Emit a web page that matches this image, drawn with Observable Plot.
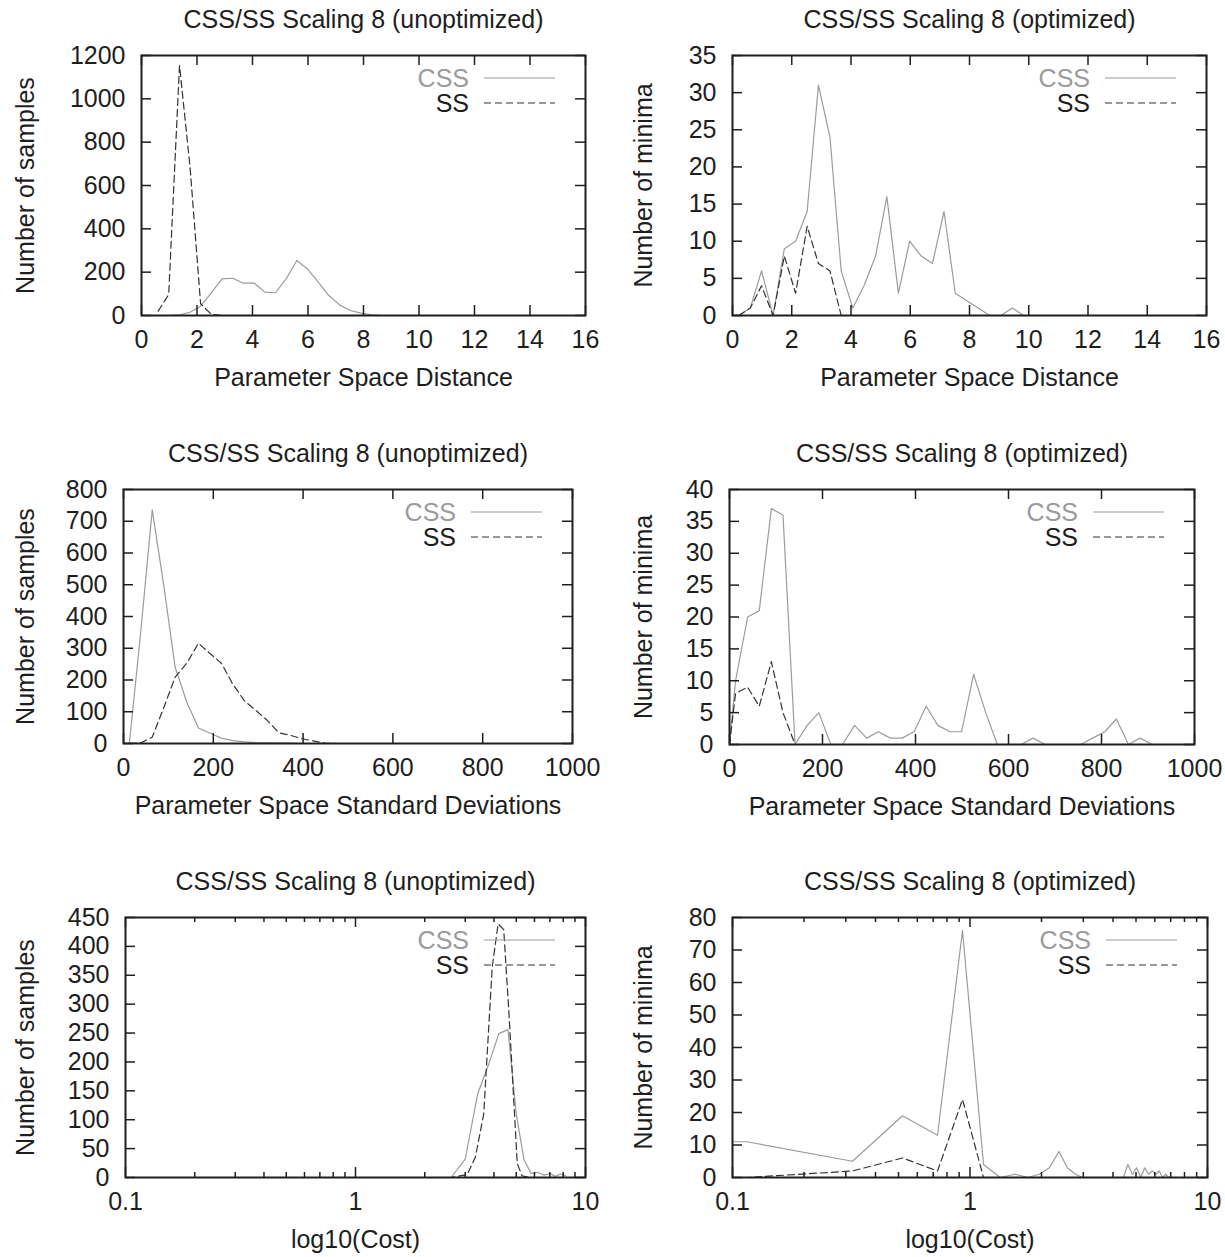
<!DOCTYPE html>
<html><head><meta charset="utf-8">
<script src="https://cdn.jsdelivr.net/npm/d3@7"></script>
<script src="https://cdn.jsdelivr.net/npm/@observablehq/plot@0.6"></script>
<style>
body{margin:0;background:#fff;}
#root{position:relative;width:1225px;height:1257px;background:#fff;}
#root svg{position:absolute;overflow:visible;}
</style></head><body><div id="root"></div>
<script>
// ---------- DATA ----------
const seriesNames = ["CSS", "SS"];
const titleUnopt = "CSS/SS Scaling 8 (unoptimized)";
const titleOpt = "CSS/SS Scaling 8 (optimized)";
const xLabelDist = "Parameter Space Distance";
const xLabelStd = "Parameter Space Standard Deviations";
const xLabelCost = "log10(Cost)";
const yLabelSamples = "Number of samples";
const yLabelMinima = "Number of minima";

// Panel A: unoptimized, distance
const unoptDistX = [0.6,0.98,1.37,1.75,2.13,2.52,2.9,3.29,3.67,4.06,4.44,4.83,5.21,5.6,5.98,6.37,6.75,7.14,7.52,7.91,8.29,8.68,9.06,9.45,9.83,10.22,10.6,10.99,11.37,11.76,12.14,12.53,12.91,13.3,13.68,14.07,14.45,14.84];
const unoptDistCSS = [0,0,3,15,43,106,169,172,149,150,108,105,169,254,215,154,92,49,23,11,3,0,0,0,0,0,0,0,0,0,0,0,0,0,0,0,0,0];
const unoptDistSS = [20,97,1154,685,54,5,0,0,0,0,0,0,0,0,0,0,0,0,0,0,0,0,0,0,0,0,0,0,0,0,0,0,0,0,0,0,0,0];

// Panel B: optimized, distance
const optDistX = [0.21,0.6,0.98,1.37,1.75,2.13,2.52,2.9,3.29,3.67,4.06,4.44,4.83,5.21,5.6,5.98,6.37,6.75,7.14,7.52,7.91,8.29,8.68,9.06,9.45,9.83,10.22,10.6,10.99,11.37,11.76,12.14,12.53,12.91,13.3,13.68,14.07,14.45,14.84,15.22];
const optDistCSS = [0,1,6,0,9,10,14,31,24,6,1,4,8,16,3,10,8,7,14,3,2,1,0,0,1,0,0,0,0,0,0,0,0,0,0,0,0,0,0,0];
const optDistSS = [0,1,4,0,8,3,12,7,6,0,0,0,0,0,0,0,0,0,0,0,0,0,0,0,0,0,0,0,0,0,0,0,0,0,0,0,0,0,0,0];

// Panel C: unoptimized, standard deviations
const unoptStdX = [13,39,64,90,115,141,167,192,218,243,269,295,320,346,371,397,423,448,474,499,525,551,576,602,627,653,679,704,730,755,781,807,832,858,883,909,935,960,986];
const unoptStdCSS = [0,360,736,495,240,130,49,33,17,9,5,3,2,1,1,0,0,0,0,0,0,0,0,0,0,0,0,0,0,0,0,0,0,0,0,0,0,0,0];
const unoptStdSS = [0,2,20,114,209,253,316,284,253,188,135,104,73,34,26,15,8,1,0,0,0,0,0,0,0,0,0,0,0,0,0,0,0,0,0,0,0,0,0];

// Panel D: optimized, standard deviations
const optStdX = [0,13,39,64,90,115,141,167,192,218,243,269,295,320,346,371,397,423,448,474,499,525,551,576,602,627,653,679,704,730,755,781,807,832,858,883,909,935,960,986];
const optStdCSS = [0,10,20,21,37,36,0,3,5,0,0,3,1,2,1,1,2,6,3,2,2,11,5,0,0,0,1,0,0,0,0,1,2,4,0,1,0,0,0,0];
const optStdSS = [0,8,9,6,13,5,0,0,0,0,0,0,0,0,0,0,0,0,0,0,0,0,0,0,0,0,0,0,0,0,0,0,0,0,0,0,0,0,0,0];

// Panel E: unoptimized, cost (log axis)
const unoptCostCSSX = [0.2,0.6,1.0,1.4,1.8,2.2,2.6,3.0,3.4,3.8,4.2,4.6,5.0,5.4,5.8,6.2,6.6,7.0,7.4,7.8,8.2];
const unoptCostCSS = [0,0,0,0,0,0,0,32,145,197,249,256,110,31,7,9,4,7,2,6,3];
const unoptCostSSX = [0.2,0.6,1.0,1.4,1.8,2.2,2.6,3.06,3.32,3.61,3.93,4.17,4.41,4.64,5.05,5.3,5.7,6.1,6.5,6.9,7.3,7.7,8.1];
const unoptCostSS = [0,0,0,0,0,0,0,5,35,110,364,439,429,289,24,3,0,0,0,0,0,0,0];

// Panel F: optimized, cost (log axis)
const optCostX = [0.1,0.115,0.32,0.52,0.73,0.93,1.14,1.34,1.55,1.75,1.96,2.16,2.37,2.57,2.78,2.98,3.19,3.39,3.6,3.8,4.01,4.21,4.42,4.62,4.83,5.03,5.24,5.44,5.65,5.85,6.06,6.26,6.47,6.67,6.88];
const optCostCSS = [11,11,5,19,13,76,4,0,1,0,1,3,8,3,1,0,0,0,0,0,0,0,0,4,1,3,0,3,1,2,1,2,0,1,0];
const optCostSS = [0,0,2,6,2,24,0,0,0,0,0,0,0,0,0,0,0,0,0,0,0,0,0,0,0,0,0,0,0,0,0,0,0,0,0];

// Ticks
const distTicks = [0,2,4,6,8,10,12,14,16];
const stdTicks = [0,200,400,600,800,1000];
const logMajor = [0.1,1,10];
const logMinor = [0.2,0.3,0.4,0.5,0.6,0.7,0.8,0.9,2,3,4,5,6,7,8,9];
const yTicksA = [0,200,400,600,800,1000,1200];
const yTicksB = [0,5,10,15,20,25,30,35];
const yTicksC = [0,100,200,300,400,500,600,700,800];
const yTicksD = [0,5,10,15,20,25,30,35,40];
const yTicksE = [0,50,100,150,200,250,300,350,400,450];
const yTicksF = [0,10,20,30,40,50,60,70,80];

// ---------- STYLE ----------
const FONT = "'Liberation Sans', Arial, Helvetica, sans-serif";
const FS = 25;
const CSS_COLOR = "#9b9b9b";
const SS_COLOR = "#333333";
const INK = "#1e1e1e";

const panels = [
  {left:0, top:0, width:612, height:429, ml:141, mr:27, mt:55, mb:114,
   xType:"linear", xDomain:[0,16], xTicks:distTicks, yDomain:[0,1200], yTicks:yTicksA,
   title:titleUnopt, xLabel:xLabelDist, yLabel:yLabelSamples, yLabelDx:-108,
   cssX:unoptDistX, cssY:unoptDistCSS, ssX:unoptDistX, ssY:unoptDistSS},
  {left:612, top:0, width:613, height:429, ml:120, mr:19, mt:55, mb:114,
   xType:"linear", xDomain:[0,16], xTicks:distTicks, yDomain:[0,35], yTicks:yTicksB,
   title:titleOpt, xLabel:xLabelDist, yLabel:yLabelMinima, yLabelDx:-81,
   cssX:optDistX, cssY:optDistCSS, ssX:optDistX, ssY:optDistSS},
  {left:0, top:429, width:612, height:429, ml:123, mr:40, mt:60, mb:115,
   xType:"linear", xDomain:[0,1000], xTicks:stdTicks, yDomain:[0,800], yTicks:yTicksC,
   title:titleUnopt, xLabel:xLabelStd, yLabel:yLabelSamples, yLabelDx:-90,
   cssX:unoptStdX, cssY:unoptStdCSS, ssX:unoptStdX, ssY:unoptStdSS},
  {left:612, top:429, width:613, height:429, ml:117, mr:31, mt:60, mb:114,
   xType:"linear", xDomain:[0,1000], xTicks:stdTicks, yDomain:[0,40], yTicks:yTicksD,
   title:titleOpt, xLabel:xLabelStd, yLabel:yLabelMinima, yLabelDx:-78,
   cssX:optStdX, cssY:optStdCSS, ssX:optStdX, ssY:optStdSS},
  {left:0, top:858, width:612, height:399, ml:125, mr:27, mt:59, mb:80,
   xType:"log", xDomain:[0.1,10], xTicks:logMajor, xMinor:logMinor, yDomain:[0,450], yTicks:yTicksE,
   title:titleUnopt, xLabel:xLabelCost, yLabel:yLabelSamples, yLabelDx:-92,
   cssX:unoptCostCSSX, cssY:unoptCostCSS, ssX:unoptCostSSX, ssY:unoptCostSS},
  {left:612, top:858, width:613, height:399, ml:120, mr:18, mt:59, mb:80,
   xType:"log", xDomain:[0.1,10], xTicks:logMajor, xMinor:logMinor, yDomain:[0,80], yTicks:yTicksF,
   title:titleOpt, xLabel:xLabelCost, yLabel:yLabelMinima, yLabelDx:-81,
   cssX:optCostX, cssY:optCostCSS, ssX:optCostX, ssY:optCostSS}
];

function legendMark(index, scales, values, dims) {
  const g = d3.create("svg:g");
  const R = dims.width - dims.marginRight;
  const T = dims.marginTop;
  const rows = [
    {name: seriesNames[0], color: CSS_COLOR, dash: null, text: CSS_COLOR, yLine: 23, yText: 32},
    {name: seriesNames[1], color: SS_COLOR, dash: "7,4", text: INK, yLine: 48, yText: 57}
  ];
  for (const r of rows) {
    g.append("text").attr("x", R - 116).attr("y", T + r.yText)
      .attr("text-anchor", "end").attr("fill", r.text)
      .attr("font-size", FS).attr("font-family", FONT).text(r.name);
    const l = g.append("line").attr("x1", R - 101).attr("x2", R - 30)
      .attr("y1", T + r.yLine).attr("y2", T + r.yLine)
      .attr("stroke", r.color).attr("stroke-width", 1.2);
    if (r.dash) l.attr("stroke-dasharray", r.dash);
  }
  return g.node();
}

function makePanel(p) {
  const innerW = p.width - p.ml - p.mr;
  const innerH = p.height - p.mt - p.mb;
  const css = p.cssX.map((x, i) => ({x, y: p.cssY[i]}));
  const ss = p.ssX.map((x, i) => ({x, y: p.ssY[i]}));
  const MAJ = 10, MIN = 5;
  const tickStyle = {stroke: INK, strokeWidth: 1.5};
  const marks = [
    Plot.line(css, {x: "x", y: "y", stroke: CSS_COLOR, strokeWidth: 1.2}),
    Plot.line(ss, {x: "x", y: "y", stroke: SS_COLOR, strokeWidth: 1.2, strokeDasharray: "7,4"}),
    Plot.tickX(p.xTicks, {x: d => d, insetBottom: innerH - MAJ, ...tickStyle}),
    Plot.tickX(p.xTicks, {x: d => d, insetTop: innerH - MAJ, ...tickStyle}),
    Plot.tickY(p.yTicks, {y: d => d, insetRight: innerW - MAJ, ...tickStyle}),
    Plot.tickY(p.yTicks, {y: d => d, insetLeft: innerW - MAJ, ...tickStyle}),
  ];
  if (p.xMinor) {
    marks.push(
      Plot.tickX(p.xMinor, {x: d => d, insetBottom: innerH - MIN, ...tickStyle}),
      Plot.tickX(p.xMinor, {x: d => d, insetTop: innerH - MIN, ...tickStyle})
    );
  }
  marks.push(
    Plot.frame({stroke: INK, strokeWidth: 2}),
    Plot.axisX(p.xTicks, {tickSize: 0, tickPadding: 15, label: null, fill: INK,
      tickFormat: d => String(d)}),
    Plot.axisY(p.yTicks, {tickSize: 0, tickPadding: 16, label: null, fill: INK,
      tickFormat: d => String(d)}),
    Plot.text([p.title], {text: d => d, frameAnchor: "top", dy: -28, lineAnchor: "bottom", textAnchor: "middle", fill: INK, fontSize: FS}),
    Plot.text([p.xLabel], {text: d => d, frameAnchor: "bottom", dy: 70, lineAnchor: "bottom", textAnchor: "middle", fill: INK, fontSize: FS}),
    Plot.text([p.yLabel], {text: d => d, frameAnchor: "left", dx: p.yLabelDx, rotate: -90, lineAnchor: "bottom", textAnchor: "middle", fill: INK, fontSize: FS}),
    legendMark
  );
  const svg = Plot.plot({
    width: p.width, height: p.height,
    marginLeft: p.ml, marginRight: p.mr, marginTop: p.mt, marginBottom: p.mb,
    x: {type: p.xType, domain: p.xDomain},
    y: {domain: p.yDomain},
    style: {fontFamily: FONT, fontSize: FS + "px", color: INK, background: "transparent"},
    marks
  });
  svg.style.left = p.left + "px";
  svg.style.top = p.top + "px";
  return svg;
}

const root = document.getElementById("root");
for (const p of panels) root.appendChild(makePanel(p));
</script>
</body></html>
